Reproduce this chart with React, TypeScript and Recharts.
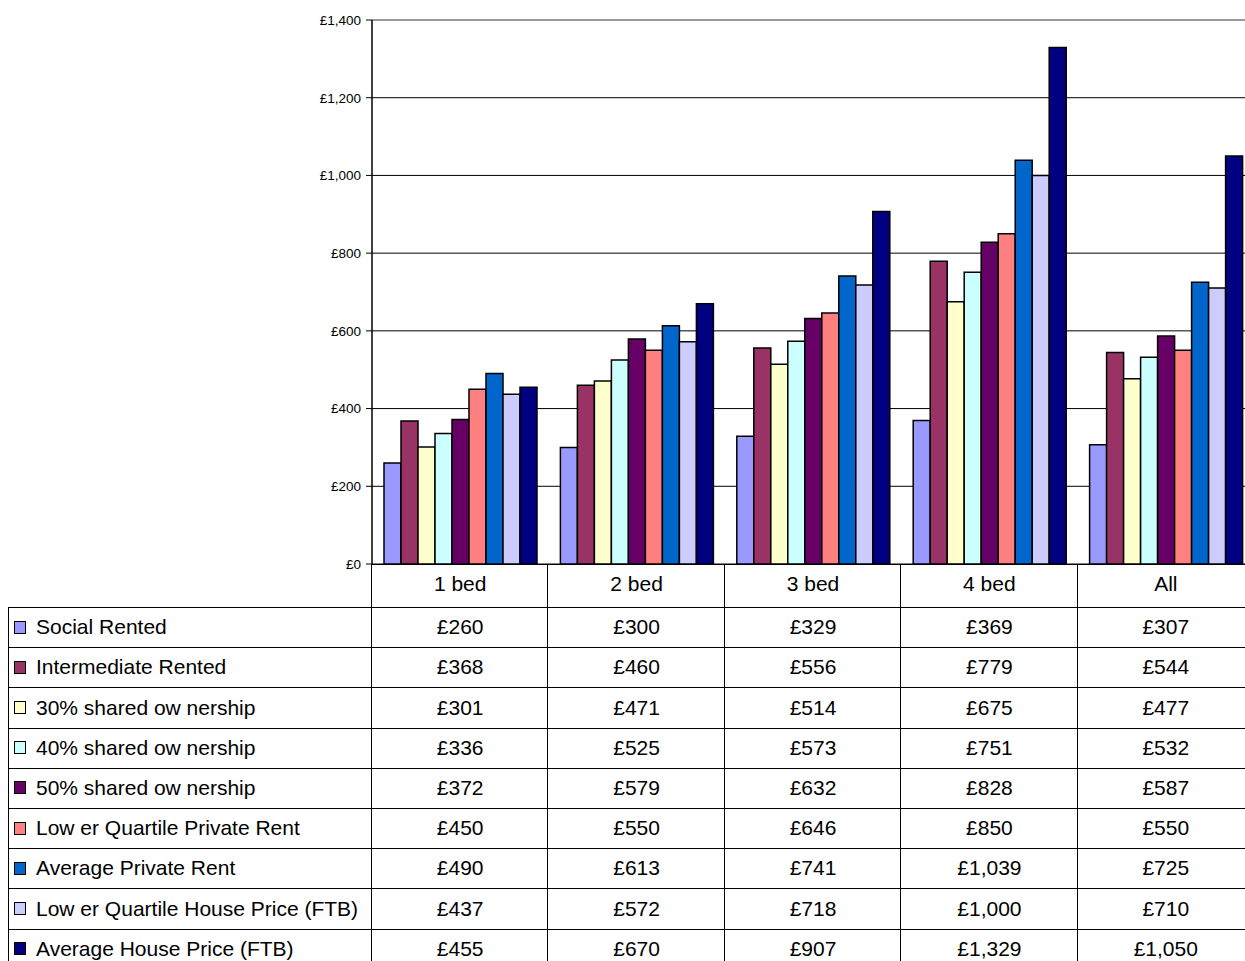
import React from 'react';
import { BarChart, Bar, XAxis, YAxis, CartesianGrid, ReferenceLine } from 'recharts';

// categories and tick labels
const categories = ['1 bed', '2 bed', '3 bed', '4 bed', 'All'];
const yTicks = [0, 200, 400, 600, 800, 1000, 1200, 1400];

// monthly cost per series, one value per category
const socialRented = [260, 300, 329, 369, 307];
const intermediateRented = [368, 460, 556, 779, 544];
const shared30 = [301, 471, 514, 675, 477];
const shared40 = [336, 525, 573, 751, 532];
const shared50 = [372, 579, 632, 828, 587];
const lqPrivateRent = [450, 550, 646, 850, 550];
const avgPrivateRent = [490, 613, 741, 1039, 725];
const lqHousePrice = [437, 572, 718, 1000, 710];
const avgHousePrice = [455, 670, 907, 1329, 1050];

const series = [
    { key: 'social', label: 'Social Rented', color: '#9999FF', values: socialRented },
    { key: 'intermediate', label: 'Intermediate Rented', color: '#993366', values: intermediateRented },
    { key: 'so30', label: '30% shared ow nership', color: '#FFFFCC', values: shared30 },
    { key: 'so40', label: '40% shared ow nership', color: '#CCFFFF', values: shared40 },
    { key: 'so50', label: '50% shared ow nership', color: '#660066', values: shared50 },
    { key: 'lqRent', label: 'Low er Quartile Private Rent', color: '#FF8080', values: lqPrivateRent },
    { key: 'avgRent', label: 'Average Private Rent', color: '#0066CC', values: avgPrivateRent },
    { key: 'lqPrice', label: 'Low er Quartile House Price (FTB)', color: '#CCCCFF', values: lqHousePrice },
    { key: 'avgPrice', label: 'Average House Price (FTB)', color: '#000080', values: avgHousePrice },
];

const chartData = categories.map((name, i) => {
    const row: any = { name };
    series.forEach(s => { row[s.key] = s.values[i]; });
    return row;
});

const money = (v: number) => '£' + v.toLocaleString('en-GB');

const FONT = '"Liberation Sans", Arial, sans-serif';
const TABLE_FONT = 21;

// layout of the plot / data table
const PLOT_LEFT = 372;
const PLOT_RIGHT = 1254;
const PLOT_TOP = 20;
const PLOT_BOTTOM = 564;
const BAND = (PLOT_RIGHT - PLOT_LEFT) / categories.length;
const TABLE_TOP = 607;
const ROW_H = 40.2;

function DataTable() {
    const bottom = TABLE_TOP + ROW_H * series.length + 10;
    return (
        <svg width={1245} height={961} style={{ position: 'absolute', left: 0, top: 0, pointerEvents: 'none' }}>
            {/* vertical lines */}
            <line x1={8.5} y1={TABLE_TOP} x2={8.5} y2={bottom} stroke="#000" />
            {categories.map((_, i) => {
                const x = Math.round(PLOT_LEFT + i * BAND) - 0.5;
                return <line key={'v' + i} x1={x} y1={PLOT_BOTTOM} x2={x} y2={bottom} stroke="#000" />;
            })}
            {/* horizontal lines */}
            <line x1={PLOT_LEFT} y1={PLOT_BOTTOM + 0.5} x2={1245} y2={PLOT_BOTTOM + 0.5} stroke="#000" />
            {series.map((_, r) => {
                const y = Math.round(TABLE_TOP + r * ROW_H) + 0.5;
                return <line key={'h' + r} x1={8} y1={y} x2={1245} y2={y} stroke="#000" />;
            })}

            {/* category header */}
            {categories.map((c, i) => (
                <text key={'c' + i} x={PLOT_LEFT + (i + 0.5) * BAND} y={583}
                    textAnchor="middle" dominantBaseline="central" fontFamily={FONT} fontSize={TABLE_FONT} fill="#000">{c}</text>
            ))}

            {/* rows */}
            {series.map((s, r) => {
                const cy = TABLE_TOP + (r + 0.5) * ROW_H - 0.5;
                return (
                    <g key={s.key}>
                        <rect x={14.5} y={Math.round(cy - 6) + 0.5} width={11} height={12} fill={s.color} stroke="#000" />
                        <text x={36} y={cy} dominantBaseline="central" fontFamily={FONT} fontSize={TABLE_FONT} fill="#000">{s.label}</text>
                        {s.values.map((v, i) => (
                            <text key={i} x={PLOT_LEFT + (i + 0.5) * BAND} y={cy} textAnchor="middle" dominantBaseline="central"
                                fontFamily={FONT} fontSize={TABLE_FONT} fill="#000">{money(v)}</text>
                        ))}
                    </g>
                );
            })}
        </svg>
    );
}

export default function App() {
    return (
        <div style={{ position: 'absolute', left: 0, top: 0, width: 1245, height: 961, overflow: 'hidden', background: '#fff' }}>
            <BarChart
                width={PLOT_RIGHT}
                height={961}
                data={chartData}
                margin={{ top: PLOT_TOP, right: 0, bottom: 961 - PLOT_BOTTOM, left: PLOT_LEFT - 60 }}
                barCategoryGap={12}
                barGap={0}
            >
                <CartesianGrid horizontal vertical={false} stroke="#000" />
                <XAxis dataKey="name" hide />
                <YAxis
                    width={60}
                    domain={[0, 1400]}
                    ticks={yTicks}
                    interval={0}
                    tickFormatter={money}
                    tick={{ fill: '#000', fontSize: 13.5, fontFamily: FONT }}
                    tickLine={{ stroke: '#000' }}
                    tickSize={6}
                    tickMargin={5}
                    axisLine={{ stroke: '#000', strokeWidth: 1.5 }}
                />
                {series.map(s => (
                    <Bar key={s.key} dataKey={s.key} fill={s.color} stroke="#000" strokeWidth={1.5} isAnimationActive={false} />
                ))}
                <ReferenceLine y={1400} stroke="#999" strokeWidth={2} />
            </BarChart>
            <DataTable />
        </div>
    );
}
